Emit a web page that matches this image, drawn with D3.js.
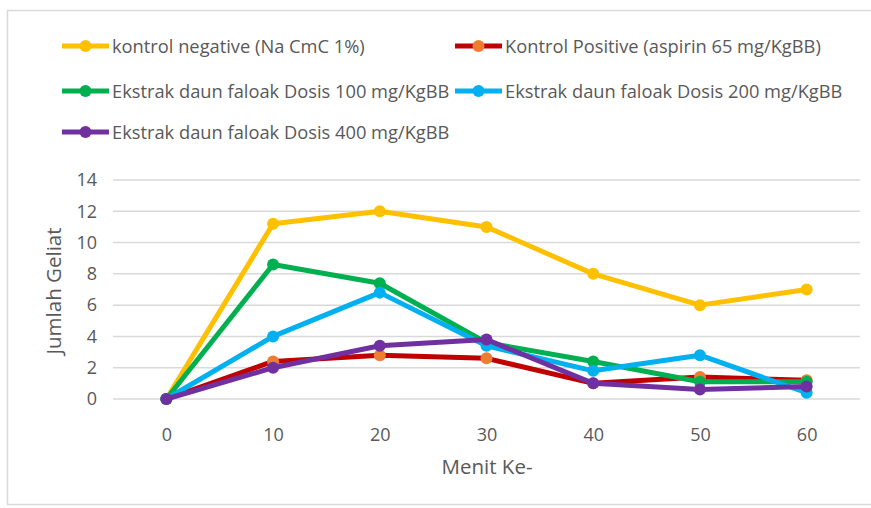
<!DOCTYPE html>
<html>
<head>
<meta charset="utf-8">
<script src="https://cdn.jsdelivr.net/npm/d3@7"></script>
<style>
  body { margin: 0; background: #fff; }
  text { font-family: "Open Sans", sans-serif; }
</style>
</head>
<body>
<svg width="871" height="508"></svg>
<script>
// line chart: jumlah geliat per menit

var minutes = ["0", "10", "20", "30", "40", "50", "60"];
var yTicks = [0, 2, 4, 6, 8, 10, 12, 14];

var seriesNames = [
    "kontrol negative (Na CmC 1%)",
    "Kontrol Positive (aspirin 65 mg/KgBB)",
    "Ekstrak daun faloak Dosis 100 mg/KgBB",
    "Ekstrak daun faloak Dosis 200 mg/KgBB",
    "Ekstrak daun faloak Dosis 400 mg/KgBB"
];

var kontrolNegative = [0, 11.2, 12, 11, 8, 6, 7];
var kontrolPositive = [0, 2.4, 2.8, 2.6, 1, 1.4, 1.2];
var dosis100 = [0, 8.6, 7.4, 3.6, 2.4, 1.1, 1.1];
var dosis200 = [0, 4, 6.8, 3.4, 1.8, 2.8, 0.4];
var dosis400 = [0, 2, 3.4, 3.8, 1, 0.6, 0.8];

var lineColors = ["#FFC000", "#C00000", "#00B050", "#00B0F0", "#7030A0"];
var markerColors = ["#FFC000", "#ED7D31", "#00B050", "#00B0F0", "#7030A0"];

var seriesValues = [kontrolNegative, kontrolPositive, dosis100, dosis200, dosis400];

var svg = d3.select("svg");

// chart frame
svg.append("rect")
   .attr("x", 7.5)
   .attr("y", 10.5)
   .attr("width", 875)
   .attr("height", 494)
   .attr("fill", "none")
   .attr("stroke", "#d9d9d9")
   .attr("stroke-width", 1.5);

// scales
var xScale = d3.scalePoint()
               .domain(minutes)
               .range([113, 860])
               .padding(0.5),
    yScale = d3.scaleLinear()
               .domain([0, 14])
               .range([399, 180]);

// gridlines
svg.append("g")
   .selectAll("line")
   .data(yTicks)
   .enter().append("line")
   .attr("x1", 113)
   .attr("x2", 860)
   .attr("y1", function(d) { return yScale(d); })
   .attr("y2", function(d) { return yScale(d); })
   .attr("stroke", "#d9d9d9")
   .attr("stroke-width", 1.5);

// y axis
var yAxis = d3.axisLeft(yScale).tickValues(yTicks).tickSize(0).tickPadding(0);
var yG = svg.append("g")
            .attr("transform", "translate(97,0)")
            .call(yAxis);
yG.select(".domain").remove();
yG.selectAll("text")
  .attr("fill", "#595959")
  .style("font-size", "18px");

// x axis
var xAxis = d3.axisBottom(xScale).tickSize(0).tickPadding(0);
var xG = svg.append("g")
            .attr("transform", "translate(0,428)")
            .call(xAxis);
xG.select(".domain").remove();
xG.selectAll("text")
  .attr("fill", "#595959")
  .style("font-size", "18px");

// axis titles
svg.append("text")
   .attr("x", 487)
   .attr("y", 474)
   .attr("text-anchor", "middle")
   .attr("fill", "#595959")
   .style("font-size", "20.5px")
   .text("Menit Ke-");

svg.append("text")
   .attr("transform", "translate(61,291) rotate(-90)")
   .attr("text-anchor", "middle")
   .attr("fill", "#595959")
   .style("font-size", "20.5px")
   .text("Jumlah Geliat");

// lines
var line = d3.line()
             .x(function(d, i) { return xScale(minutes[i]); })
             .y(function(d) { return yScale(d); });

seriesValues.forEach(function(vals, s) {
    svg.append("path")
       .datum(vals)
       .attr("d", line)
       .attr("fill", "none")
       .attr("stroke", lineColors[s])
       .attr("stroke-width", 5)
       .attr("stroke-linejoin", "round");

    svg.append("g")
       .selectAll("circle")
       .data(vals)
       .enter().append("circle")
       .attr("cx", function(d, i) { return xScale(minutes[i]); })
       .attr("cy", function(d) { return yScale(d); })
       .attr("r", 6)
       .attr("fill", markerColors[s]);
});

// legend
var legendPos = [[62, 46], [455, 46], [62, 91], [455, 91], [62, 132]];
seriesNames.forEach(function(name, s) {
    var g = svg.append("g")
               .attr("transform", "translate(" + legendPos[s][0] + "," + legendPos[s][1] + ")");
    g.append("line")
     .attr("x1", 0).attr("x2", 47)
     .attr("stroke", lineColors[s])
     .attr("stroke-width", 5);
    g.append("circle")
     .attr("cx", 23.5)
     .attr("r", 6)
     .attr("fill", markerColors[s]);
    g.append("text")
     .attr("x", 50)
     .attr("y", 6.5)
     .attr("fill", "#595959")
     .style("font-size", "18.3px")
     .text(name);
});
</script>
</body>
</html>
